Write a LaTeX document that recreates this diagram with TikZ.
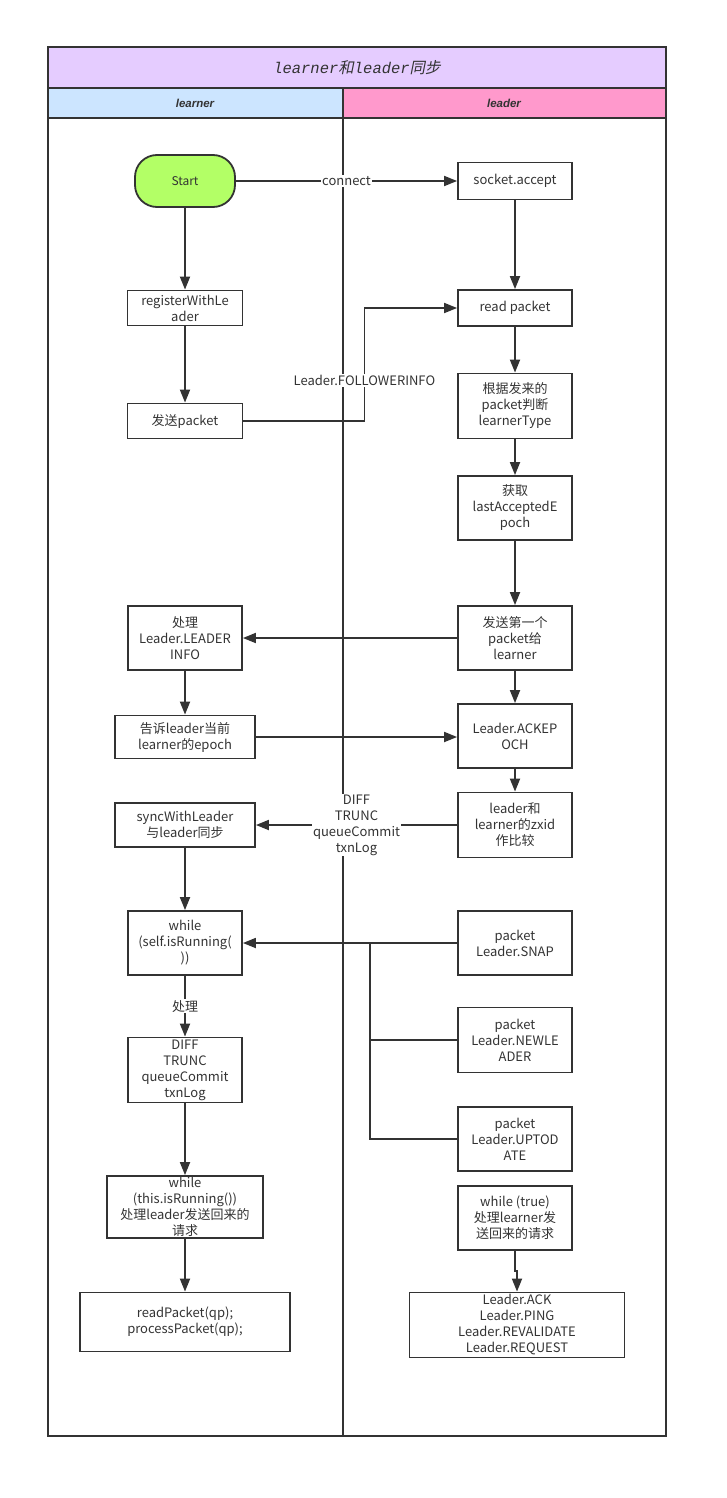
\documentclass[tikz,border=0pt]{standalone}
\usepackage{fontspec}
\setmainfont{Noto Sans CJK SC}
\newfontfamily\ttit{Liberation Mono}[UprightFont=* Italic]
\newfontfamily\cjksl{Noto Sans CJK SC}[FakeSlant=0.2]
\newfontfamily\headfont{Liberation Sans}
\usetikzlibrary{arrows.meta,positioning}

\definecolor{linegray}{HTML}{333333}
\definecolor{titlebg}{HTML}{E5CCFF}
\definecolor{learnbg}{HTML}{CCE5FF}
\definecolor{leadbg}{HTML}{FF99CC}
\definecolor{startbg}{HTML}{B3FF66}

\tikzset{
  box/.style={draw=linegray, line width=1.8pt, align=center, inner sep=0pt,
    text=linegray, font=\fontsize{13}{16}\selectfont},
  flow/.style={draw=linegray, line width=1.8pt, -{Triangle[length=13pt,width=10pt]}},
  link/.style={draw=linegray, line width=1.8pt},
  lbl/.style={fill=white, inner sep=1pt, text=linegray, align=center,
    font=\fontsize{13}{16}\selectfont},
}

\begin{document}
\begin{tikzpicture}[x=1pt,y=-1pt]
\useasboundingbox (0,0) rectangle (727,1498);

% pool and lanes
\fill[titlebg] (48,47) rectangle (666,88);
\fill[learnbg] (48,88) rectangle (343,118);
\fill[leadbg] (343,88) rectangle (666,118);
\draw[link] (48,88) -- (666,88);
\draw[link] (48,118) -- (666,118);
\draw[link] (343,88) -- (343,1436);
\draw[draw=linegray, line width=2pt] (48,47) rectangle (666,1436);
\node[text=linegray, font=\fontsize{15.5}{17}\selectfont] (title) at (357,68)
  {{\ttit learner}{\cjksl 和}{\ttit leader}{\cjksl 同步}};
\node[text=linegray, font=\headfont\fontsize{11.5}{13}\selectfont\bfseries\itshape] (learnhd) at (195,103) {learner};
\node[text=linegray, font=\headfont\fontsize{11.5}{13}\selectfont\bfseries\itshape] (leadhd) at (504,103) {leader};

% learner side
\node[box, fill=startbg, rounded corners=22pt, minimum width=100, minimum height=52,
  font=\fontsize{12}{14}\selectfont] (start) at (185,181) {Start};
\node[box, minimum width=115, minimum height=35] (reg) at (185,308) {registerWithLe\\ader};
\node[box, minimum width=115, minimum height=35] (send) at (185,421) {发送packet};
\node[box, minimum width=114, minimum height=64] (info) at (185,638) {处理\\Leader.LEADER\\INFO};
\node[box, minimum width=140, minimum height=43] (tell) at (185,737) {告诉leader当前\\learner的epoch};
\node[box, minimum width=140, minimum height=44] (sync) at (185,825) {syncWithLeader\\与leader同步};
\node[box, minimum width=114, minimum height=64] (wself) at (185,943) {while\\(self.isRunning(\\))};
\node[box, minimum width=114, minimum height=65] (diff) at (185,1070) {DIFF\\TRUNC\\queueCommit\\txnLog};
\node[box, minimum width=156, minimum height=62] (wthis) at (185,1207) {while\\(this.isRunning())\\处理leader发送回来的\\请求};
\node[box, minimum width=210, minimum height=59] (rpkt) at (185,1322) {readPacket(qp);\\processPacket(qp);};

% leader side
\node[box, minimum width=114, minimum height=37] (sock) at (515,181) {socket.accept};
\node[box, minimum width=114, minimum height=36] (read) at (515,308) {read packet};
\node[box, minimum width=114, minimum height=65] (judge) at (515,406) {根据发来的\\packet判断\\learnerType};
\node[box, minimum width=114, minimum height=64] (epoch) at (515,508) {获取\\lastAcceptedE\\poch};
\node[box, minimum width=114, minimum height=64] (first) at (515,638) {发送第一个\\packet给\\learner};
\node[box, minimum width=114, minimum height=64] (ack) at (515,736) {Leader.ACKEP\\OCH};
\node[box, minimum width=114, minimum height=65] (zxid) at (515,825) {leader和\\learner的zxid\\作比较};
\node[box, minimum width=114, minimum height=64] (snap) at (515,943) {packet\\Leader.SNAP};
\node[box, minimum width=114, minimum height=65] (newl) at (515,1040) {packet\\Leader.NEWLE\\ADER};
\node[box, minimum width=114, minimum height=64] (upto) at (515,1139) {packet\\Leader.UPTOD\\ATE};
\node[box, minimum width=114, minimum height=64] (wtrue) at (515,1218) {while (true)\\处理learner发\\送回来的请求};
\node[box, minimum width=215, minimum height=65] (reqs) at (517,1325) {Leader.ACK\\Leader.PING\\Leader.REVALIDATE\\Leader.REQUEST};
\coordinate (join) at (370,943);

% connectors
\draw[flow] (start) -- (sock) node[lbl, pos=0.5] (conn) {connect};
\draw[flow] (start) -- (reg);
\draw[flow] (reg) -- (send);
\draw[flow] (sock) -- (read);
\draw[flow] (send.east) -- ++(121,0) |- (read.west) node[lbl, pos=0.18] (finfo) {Leader.FOLLOWERINFO};
\draw[flow] (read) -- (judge);
\draw[flow] (judge) -- (epoch);
\draw[flow] (epoch) -- (first);
\draw[flow] (first) -- (info);
\draw[flow] (info) -- (tell);
\draw[flow] (tell) -- (tell -| ack.west);
\draw[flow] (first) -- (ack);
\draw[flow] (ack) -- (zxid);
\draw[flow] (zxid) -- (sync) node[lbl, pos=0.5] (dlist) {DIFF\\TRUNC\\queueCommit\\txnLog};
\draw[flow] (sync) -- (wself);
\draw[link] (newl.west) -| (join);
\draw[link] (upto.west) -| (join);
\draw[flow] (snap) -- (wself);
\draw[flow] (wself) -- (diff) node[lbl, pos=0.5] (deal) {处理};
\draw[flow] (diff) -- (wthis);
\draw[flow] (wthis) -- (rpkt);
\draw[flow] (wtrue.south) -- ++(0,20) -| (reqs.north);
\end{tikzpicture}
\end{document}
